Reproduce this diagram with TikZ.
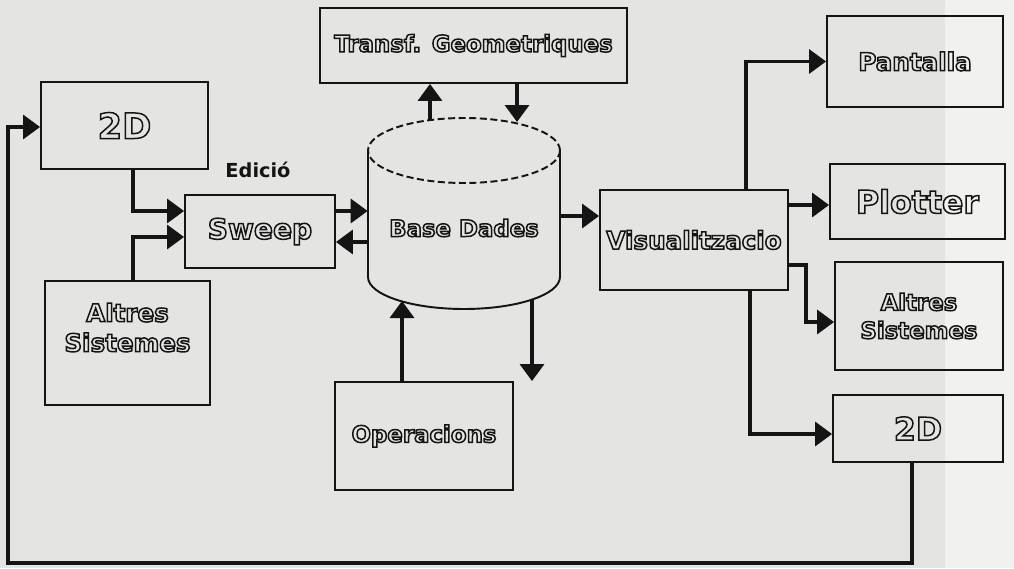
\documentclass[tikz,border=0pt]{standalone}
\usepackage{fontspec}
\setsansfont{DejaVu Sans}
\usetikzlibrary{arrows.meta, positioning}
\definecolor{paper}{RGB}{228,228,226}
\definecolor{paperlight}{RGB}{241,241,239}
\definecolor{ink}{RGB}{20,20,20}
\newcommand{\hollow}[1]{\special{pdf:literal direct 1 Tr 0.85 w}#1\special{pdf:literal direct 0 Tr}}
\newcommand{\fsz}[1]{\sffamily\bfseries\fontsize{#1}{#1}\selectfont}

\begin{document}
\begin{tikzpicture}[x=0.02cm, y=-0.02cm,
  block/.style={draw=ink, line width=1.1pt, inner sep=0pt, align=center,
    text=ink},
  arrow/.style={-{Triangle[length=3.4mm, width=4.8mm]}, line width=2pt, draw=ink}
]
  \useasboundingbox (0,0) rectangle (1014,568);
  \fill[paper] (0,0) rectangle (1014,568);
  \fill[paperlight] (945,0) rectangle (1014,568);

  % Blocks
  \node[block, minimum width=3.34cm, minimum height=1.74cm, font=\fsz{20}]
    (twoDl) at (124.5,125.5) {\hollow{2D}};
  \node[block, minimum width=3.0cm, minimum height=1.46cm, font=\fsz{16}]
    (sweep) at (260,231.5) {\hollow{Sweep}};
  \node[block, minimum width=3.3cm, minimum height=2.48cm, font=\fsz{14},
    text height=10pt] (altresl) at (127.5,343) {\hollow{Altres}\\[3pt]\hollow{Sistemes}};
  \node[block, minimum width=6.14cm, minimum height=1.5cm, font=\fsz{13}]
    (transf) at (473.5,45.5) {\hollow{Transf. Geometriques}};
  \node[block, minimum width=3.76cm, minimum height=2.0cm, font=\fsz{14}]
    (visual) at (694,240) {\hollow{Visualitzacio}};
  \node[block, minimum width=3.52cm, minimum height=1.82cm, font=\fsz{14}]
    (pantalla) at (915,61.5) {\hollow{Pantalla}};
  \node[block, minimum width=3.5cm, minimum height=1.5cm, font=\fsz{18}]
    (plotter) at (917.5,201.5) {\hollow{Plotter}};
  \node[block, minimum width=3.36cm, minimum height=2.16cm, font=\fsz{13}]
    (altresr) at (919,316) {\hollow{Altres}\\[3pt]\hollow{Sistemes}};
  \node[block, minimum width=3.4cm, minimum height=1.34cm, font=\fsz{18}]
    (twoDr) at (918,428.5) {\hollow{2D}};
  \node[block, minimum width=3.56cm, minimum height=2.16cm, font=\fsz{13}]
    (oper) at (424,436) {\hollow{Operacions}};
  \node[text=ink, font=\fsz{11}] (edicio) at (258,170) {Edició};

  % Base de dades (cilindre)
  \draw[ink, line width=1.1pt] (368,150.5) -- (368,277)
    arc[start angle=180, end angle=360, x radius=1.92cm, y radius=0.64cm]
    -- (560,150.5);
  \draw[ink, line width=1.1pt, dash pattern=on 4pt off 2pt]
    (464,150.5) ellipse [x radius=1.92cm, y radius=0.65cm];
  \node[minimum width=3.84cm, minimum height=2.53cm, inner sep=0pt] (db) at (464,213.75) {};
  \node[text=ink, font=\fsz{13}] (dbtxt) at (464,228) {\hollow{Base Dades}};
  \coordinate (dbtopa) at (430,120);
  \coordinate (dbtopb) at (517,122);
  \coordinate (dbbota) at (402,301);
  \coordinate (dbbotb) at (532,300);

  % Arrows
  \draw[arrow] (133,0 |- twoDl.south) |- (sweep.west |- 0,211);
  \draw[arrow] (133,0 |- altresl.north) |- (sweep.west |- 0,237);
  \draw[arrow] (sweep.east |- 0,211) -- (db.west |- 0,211);
  \draw[arrow] (db.west |- 0,242) -- (sweep.east |- 0,242);
  \draw[arrow] (dbtopa) -- (transf.south -| dbtopa);
  \draw[arrow] (transf.south -| dbtopb) -- (dbtopb);
  \draw[arrow] (oper.north -| dbbota) -- (dbbota);
  \draw[arrow] (dbbotb) -- (oper.north -| dbbotb);
  \draw[arrow] (db.east |- 0,216) -- (visual.west |- 0,216);
  \draw[arrow] (746,0 |- visual.north) |- (pantalla.west);
  \draw[arrow] (visual.east |- 0,205) -- (plotter.west |- 0,205);
  \draw[arrow] (visual.east |- 0,265) -- (806,265) |- (altresr.west |- 0,322);
  \draw[arrow] (750,0 |- visual.south) |- (twoDr.west |- 0,434);
  \draw[arrow] (912,0 |- twoDr.south) |- (8,563) |- (twoDl.west |- 0,127);
\end{tikzpicture}
\end{document}
